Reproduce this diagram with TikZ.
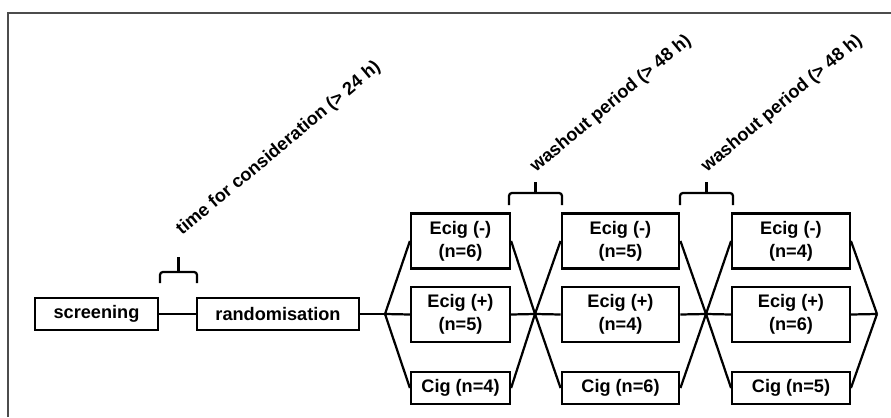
\documentclass[tikz,border=0pt]{standalone}
\usepackage{fontspec}
\setmainfont{Liberation Sans}
\usetikzlibrary{positioning}

\begin{document}
\begin{tikzpicture}[x=0.03cm, y=-0.03cm,
  box/.style={draw, line width=1.9pt, inner sep=0pt, minimum height=0.96cm, align=center, font=\fontsize{15.5}{19.6}\selectfont\bfseries},
  tall/.style={box, minimum height=1.65cm},
  link/.style={line width=1.9pt},
  tbrace/.style={line width=1.9pt, rounded corners=2.5pt},
  period/.style={rotate=40, anchor=base west, inner sep=0pt, font=\fontsize{15.5}{19.6}\selectfont\bfseries}]
\useasboundingbox (0,0) rectangle (891,417);
\draw [black!70, line width=1.1pt] (8,417) |- (891,13);

% screening and randomisation
\node [box, minimum width=3.69cm] (screen) at (96.5,314) {screening};
\node [box, minimum width=4.86cm] (random) at (278,314) {randomisation};

% three periods
\foreach \c/\x/\w/\a/\b/\d in {1/460.5/2.97/6/5/4, 2/620.5/3.53/5/4/6, 3/791/3.53/4/6/5} {
  \node [tall, minimum width=\w cm] (neg\c) at (\x,241) {Ecig (-)\\(n=\a)};
  \node [tall, minimum width=\w cm] (pos\c) at (\x,314.5) {Ecig (+)\\(n=\b)};
  \node [box, minimum width=\w cm] (cig\c) at (\x,388) {Cig (n=\d)};
}

\coordinate (f0) at (385,314);
\coordinate (f1) at (535,314);
\coordinate (f2) at (706,314);
\coordinate (f3) at (877,314);

\draw [link] (screen) -- (random);
\draw [link] (random) -- (f0);
\foreach \c [evaluate=\c as \p using int(\c-1)] in {1,2,3} {
  \draw [link] (f\p) -- (neg\c.west) (f\p) -- (pos\c.west) (f\p) -- (cig\c.west);
  \draw [link] (neg\c.east) -- (f\c) (pos\c.east) -- (f\c) (cig\c.east) -- (f\c);
}

% braces
\draw [tbrace] (160,283) -- (160,272) -- (197,272) -- (197,283);
\draw [link] (178.5,272) -- (178.5,257);
\draw [tbrace] (509,205) -- (509,193) -- (562,193) -- (562,205);
\draw [link] (535.5,193) -- (535.5,182);
\draw [tbrace] (680,205) -- (680,193) -- (733,193) -- (733,205);
\draw [link] (706.5,193) -- (706.5,182);

\node [period] (wait) at (182,236) {time for consideration (> 24 h)};
\node [period] (wash1) at (536,173) {washout period (> 48 h)};
\node [period] (wash2) at (707,173) {washout period (> 48 h)};
\end{tikzpicture}
\end{document}
